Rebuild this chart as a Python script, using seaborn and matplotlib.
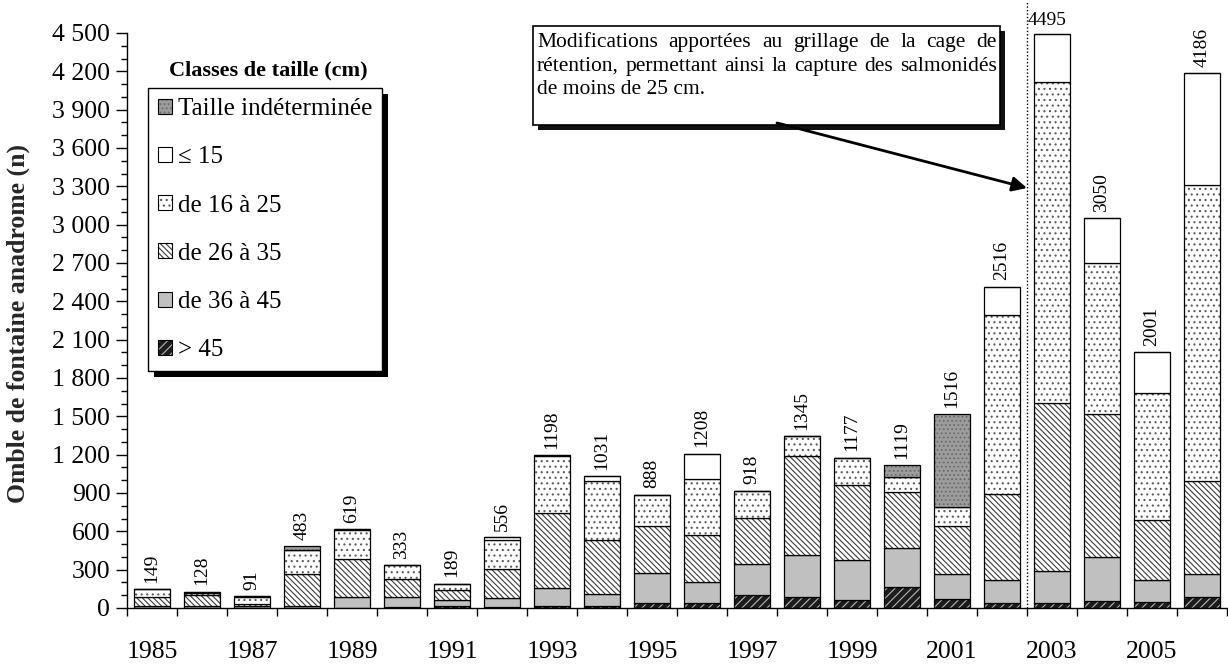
import numpy as np
import matplotlib
matplotlib.use("Agg")
import matplotlib.pyplot as plt
import seaborn as sns
from matplotlib.patches import Patch, Rectangle
from matplotlib.ticker import MultipleLocator, FuncFormatter
from matplotlib.legend_handler import HandlerTuple

# ---- data: anadromous brook charr counts per size class ----
years = [str(y) for y in range(1985, 2007)]
gt45 = [0, 0, 0, 0, 3, 10, 16, 10, 18, 13, 42, 36, 102, 84, 63, 164, 70, 40, 37, 52, 45, 84]
s36_45 = [15, 15, 12, 15, 81, 74, 44, 68, 141, 99, 229, 170, 242, 333, 310, 308, 196, 182, 255, 349, 174, 182]
s26_35 = [73, 90, 20, 249, 299, 140, 81, 227, 582, 418, 373, 365, 358, 770, 590, 433, 378, 672, 1310, 1115, 470, 728]
s16_25 = [61, 10, 55, 190, 231, 109, 44, 227, 450, 461, 244, 439, 216, 158, 214, 118, 149, 1396, 2512, 1182, 991, 2316]
le15 = [0, 13, 4, 0, 5, 0, 4, 24, 7, 40, 0, 198, 0, 0, 0, 0, 0, 226, 381, 352, 321, 876]
indet = [0, 0, 0, 29, 0, 0, 0, 0, 0, 0, 0, 0, 0, 0, 0, 96, 723, 0, 0, 0, 0, 0]

class_labels = ["> 45", "de 36 à 45", "de 26 à 35", "de 16 à 25", "\u2264 15", "Taille indéterminée"]
legend_title = "Classes de taille (cm)"
y_label = "Omble de fontaine anadrome (n)"
note_lines = [
    "Modifications apportées au grillage de la cage de",
    "rétention, permettant ainsi la capture des salmonidés",
    "de moins de 25 cm.",
]

sns.set_style("ticks")
plt.rcParams["font.family"] = ["Liberation Serif", "DejaVu Serif"]
plt.rcParams["hatch.linewidth"] = 0.8
plt.rcParams["axes.edgecolor"] = "black"
plt.rcParams["xtick.color"] = "black"
plt.rcParams["ytick.color"] = "black"
plt.rcParams["text.color"] = "black"

W, H = 1228, 664
fig = plt.figure(figsize=(W / 100, H / 100), dpi=100)
ax = fig.add_axes([127 / W, 1 - 608 / H, 1100 / W, 575 / H])
ax.patch.set_alpha(0)


def fx(px):
    return px / W


def fy(py):
    return 1 - py / H


# fill style for each class: (face, hatch, hatch colour)
styles = [
    ("#1c1c1c", "////", "#b5b5b5"),
    ("#c0c0c0", None, None),
    ("white", "\\\\\\\\\\\\", "#3a3a3a"),
    ("white", "...", "#5a5a5a"),
    ("white", None, None),
    ("#9c9c9c", "....", "#6a6a6a"),
]
series = [gt45, s36_45, s26_35, s16_25, le15, indet]

bar_w = 0.72
bottom = np.zeros(len(years))
for vals, (face, hatch, hcol) in zip(series, styles):
    vals = np.asarray(vals, dtype=float)
    sns.barplot(x=years, y=vals, bottom=bottom, color=face, saturation=1,
                width=bar_w, errorbar=None, hatch=hatch,
                edgecolor=hcol if hatch else face, linewidth=0, ax=ax)
    sns.barplot(x=years, y=vals, bottom=bottom, fill=False, color="black",
                width=bar_w, errorbar=None, linewidth=0.9, ax=ax)
    bottom = bottom + vals

totals = bottom
for i, tot in enumerate(totals):
    if years[i] == "2003":
        ax.text(i - 0.1, tot + 35, f"{tot:.0f}", ha="center", va="bottom", fontsize=14)
    else:
        ax.text(i, tot + 50, f"{tot:.0f}", rotation=90, ha="center", va="bottom", fontsize=14)

# axes
ax.set_ylim(0, 4500)
ax.set_xlim(-0.5, len(years) - 0.5)
ax.yaxis.set_major_locator(MultipleLocator(300))
ax.yaxis.set_minor_locator(MultipleLocator(100))
ax.yaxis.set_major_formatter(FuncFormatter(lambda v, p: f"{int(v):,}".replace(",", " ")))
ax.tick_params(axis="y", which="major", direction="out", length=8, width=1, labelsize=18.5, pad=4)
ax.tick_params(axis="y", which="minor", direction="out", length=4, width=1)
ax.set_xticks(range(0, len(years), 2), labels=years[::2])
ax.set_xticks(np.arange(-0.5, len(years), 1), minor=True)
ax.tick_params(axis="x", which="major", length=0, labelsize=18.5, pad=24)
ax.tick_params(axis="x", which="minor", direction="out", length=6, width=1)
ax.set_xlabel("")
ax.set_ylabel(y_label, fontsize=18.5, fontweight="bold")
ax.yaxis.set_label_coords(-0.088, 0.495)
sns.despine(ax=ax)
for s in ("left", "bottom"):
    ax.spines[s].set_linewidth(1)

# dotted separator before the 2003 season
ax.axvline(17.5, ymin=0, ymax=1.055, color="black", linestyle=(0, (1, 1.5)),
           linewidth=1, clip_on=False)

# legend
handles = []
for face, hatch, hcol in styles:
    fillp = Patch(facecolor=face, hatch=hatch, edgecolor=hcol if hatch else face, linewidth=0)
    edge = Patch(facecolor="none", edgecolor="black", linewidth=0.8)
    handles.append((fillp, edge))
leg = ax.legend(handles[::-1], class_labels[::-1], loc="upper left",
                bbox_to_anchor=(fx(148), fy(88)), bbox_transform=fig.transFigure,
                frameon=True, fancybox=False, edgecolor="black", framealpha=1,
                fontsize=18, handlelength=0.55, handleheight=0.55, handletextpad=0.25,
                labelspacing=1.05, borderpad=0.4, borderaxespad=0,
                handler_map={tuple: HandlerTuple(ndivide=1, pad=0)})
leg.get_frame().set_linewidth(1.0)
fig.text(fx(268), fy(70), legend_title, ha="center", va="center", fontsize=16, fontweight="bold")

fig.canvas.draw()
renderer = fig.canvas.get_renderer()
bb = leg.get_window_extent(renderer).transformed(fig.transFigure.inverted())
ax.add_patch(Rectangle((bb.x0 + 6 / W, bb.y0 - 6 / H), bb.width, bb.height,
                       transform=fig.transFigure, facecolor="black", edgecolor="none",
                       zorder=4.9, clip_on=False))

# note box with drop shadow
bx0, by0, bx1, by1 = 533, 26, 1000, 125
ax.add_patch(Rectangle((fx(bx0 + 5), fy(by1 + 5)), (bx1 - bx0) / W, (by1 - by0) / H,
                       transform=fig.transFigure, facecolor="#111111", edgecolor="none",
                       zorder=6, clip_on=False))
ax.add_patch(Rectangle((fx(bx0), fy(by1)), (bx1 - bx0) / W, (by1 - by0) / H,
                       transform=fig.transFigure, facecolor="white", edgecolor="black",
                       linewidth=1.2, zorder=6.5, clip_on=False))

note_fs = 15.5
left_px, right_px = 537, 997
baselines = [47, 71, 94]
for k, (line, base) in enumerate(zip(note_lines, baselines)):
    if k < len(note_lines) - 1:
        words = line.split()
        objs = [fig.text(0, 0, w, fontsize=note_fs, va="baseline", ha="left", zorder=7) for w in words]
        widths = [o.get_window_extent(renderer).width for o in objs]
        gap = (right_px - left_px - sum(widths)) / (len(words) - 1)
        xpos = left_px
        for o, wdt in zip(objs, widths):
            o.set_position((fx(xpos), fy(base)))
            xpos += wdt + gap
    else:
        fig.text(fx(left_px), fy(base), line, fontsize=note_fs, va="baseline", ha="left", zorder=7)

ax.annotate("", xy=(17.5, 3287), xytext=(12.5, 3796),
            arrowprops=dict(arrowstyle="-|>", color="black", lw=2, mutation_scale=22,
                            shrinkA=0, shrinkB=0), zorder=8, annotation_clip=False)

fig.savefig("out.png", dpi=100)
